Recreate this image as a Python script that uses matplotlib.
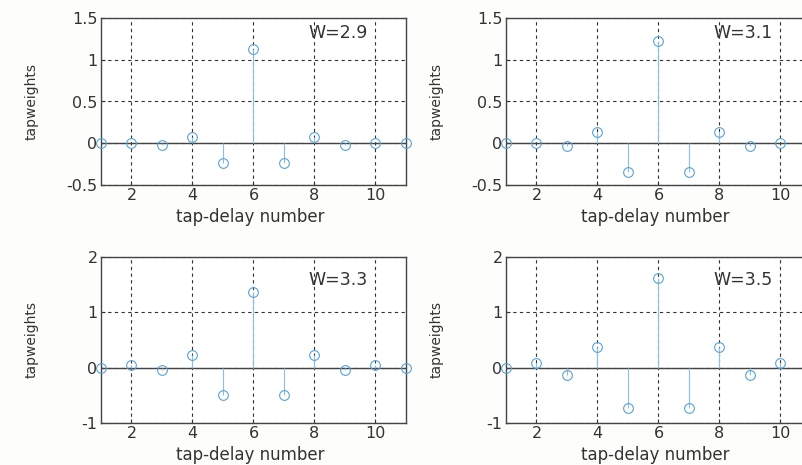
import matplotlib
matplotlib.use("Agg")
import matplotlib.pyplot as plt
import numpy as np

plt.rcParams['font.family'] = ['DejaVu Sans']

taps = [1, 2, 3, 4, 5, 6, 7, 8, 9, 10, 11]
w29 = [0.0, 0.0, -0.02, 0.07, -0.24, 1.13, -0.24, 0.07, -0.02, 0.0, 0.0]
w31 = [0.0, 0.0, -0.03, 0.13, -0.35, 1.23, -0.35, 0.13, -0.03, 0.0, 0.0]
w33 = [0.0, 0.05, -0.05, 0.22, -0.49, 1.37, -0.49, 0.22, -0.05, 0.05, 0.0]
w35 = [0.0, 0.09, -0.13, 0.38, -0.72, 1.62, -0.72, 0.38, -0.13, 0.09, 0.0]
labels = ["W=2.9", "W=3.1", "W=3.3", "W=3.5"]
series = [w29, w31, w33, w35]
ylims = [(-0.5, 1.5), (-0.5, 1.5), (-1, 2), (-1, 2)]
yticks = [[-0.5, 0, 0.5, 1, 1.5], [-0.5, 0, 0.5, 1, 1.5], [-1, 0, 1, 2], [-1, 0, 1, 2]]
ytlabels = [["-0.5", "0", "0.5", "1", "1.5"], ["-0.5", "0", "0.5", "1", "1.5"],
            ["-1", "0", "1", "2"], ["-1", "0", "1", "2"]]
xticks = [2, 4, 6, 8, 10]

fig = plt.figure(figsize=(8.03, 4.65), dpi=100)
fig.patch.set_facecolor('#fdfdfb')
W, H = 803, 465
rects = [
    (101 / W, 1 - 185 / H, 305 / W, 167 / H),
    (506 / W, 1 - 185 / H, 305 / W, 167 / H),
    (101 / W, 1 - 423 / H, 305 / W, 166 / H),
    (506 / W, 1 - 423 / H, 305 / W, 166 / H),
]
txt_y = [0.91, 0.91, 0.86, 0.86]
xlab_y = [-0.135, -0.135, -0.14, -0.14]

tc = '#333333'
for i in range(4):
    ax = fig.add_axes(rects[i])
    ax.set_facecolor('white')
    y = series[i]
    ax.vlines(taps, 0, y, colors='#8cc0e2', linewidth=0.8, zorder=3)
    ax.plot(taps, y, linestyle='none', marker='o', ms=7, mfc='none',
            mec='#5aa2d4', mew=0.8, zorder=4, clip_on=False)
    ax.axhline(0, color='#444444', linewidth=1.0, zorder=2)
    ax.set_xlim(1, 11)
    ax.set_ylim(*ylims[i])
    ax.set_xticks(xticks)
    ax.set_yticks(yticks[i])
    ax.set_yticklabels(ytlabels[i])
    ax.grid(True, linestyle=(0, (3, 3)), color='#333333', linewidth=0.8)
    ax.set_axisbelow(True)
    ax.tick_params(direction='in', length=3, labelsize=11.5, colors=tc, pad=2.5)
    for sp in ax.spines.values():
        sp.set_color('#444444')
        sp.set_linewidth(1.0)
    ax.set_xlabel('tap-delay number', fontsize=12, color=tc)
    ax.xaxis.set_label_coords(0.49, xlab_y[i])
    ax.set_ylabel('tapweights', fontsize=10, color=tc)
    ax.yaxis.set_label_coords(-0.203, 0.5)
    ax.text(0.875, txt_y[i], labels[i], transform=ax.transAxes, ha='right',
            va='center', fontsize=12.5, color=tc)

fig.savefig('out.png', dpi=100, facecolor=fig.get_facecolor())
